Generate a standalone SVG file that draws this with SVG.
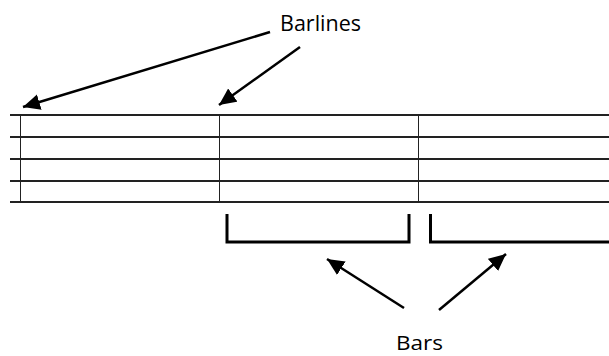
<svg xmlns="http://www.w3.org/2000/svg" width="609" height="356" viewBox="0 0 609 356">
<style>
.staff{stroke:#222;stroke-width:2;fill:none}
.bar{stroke:#222;stroke-width:1;fill:none}
.bracket{stroke:#000;stroke-width:3;fill:none}
.arrow{stroke:#000;stroke-width:2.5;fill:none;marker-end:url(#ah)}
.lbl{font-family:"Open Sans","Liberation Sans",sans-serif;font-size:21px;fill:#000}
</style>
<defs>
<marker id="ah" markerUnits="userSpaceOnUse" markerWidth="20" markerHeight="18" refX="17" refY="8" orient="auto">
<path d="M0,0 L17,8 L0,16 Z" fill="#000"/>
</marker>
</defs>
<rect width="609" height="356" fill="#fff"/>
<g id="staff">
<line class="staff" x1="10" y1="115" x2="609" y2="115"/>
<line class="staff" x1="10" y1="137" x2="609" y2="137"/>
<line class="staff" x1="10" y1="159" x2="609" y2="159"/>
<line class="staff" x1="10" y1="181" x2="609" y2="181"/>
<line class="staff" x1="10" y1="202" x2="609" y2="202"/>
</g>
<g id="barlines">
<line class="bar" x1="20.5" y1="115" x2="20.5" y2="202"/>
<line class="bar" x1="219.5" y1="115" x2="219.5" y2="202"/>
<line class="bar" x1="418.5" y1="115" x2="418.5" y2="202"/>
</g>
<g id="bars">
<path class="bracket" d="M227,214 V242 H409 V214"/>
<path class="bracket" d="M430.5,214 V242 H609"/>
</g>
<g id="label-barlines">
<text class="lbl" x="280" y="31" textLength="81" lengthAdjust="spacingAndGlyphs">Barlines</text>
</g>
<g id="label-bars">
<text class="lbl" x="396" y="350" font-size="20" textLength="47" lengthAdjust="spacingAndGlyphs" style="font-size:20px">Bars</text>
</g>
<g id="connectors">
<line class="arrow" x1="270" y1="32" x2="23" y2="107"/>
<line class="arrow" x1="300" y1="47" x2="219" y2="105"/>
<line class="arrow" x1="404" y1="308" x2="327" y2="259"/>
<line class="arrow" x1="439" y1="310" x2="506" y2="254"/>
</g>
</svg>
